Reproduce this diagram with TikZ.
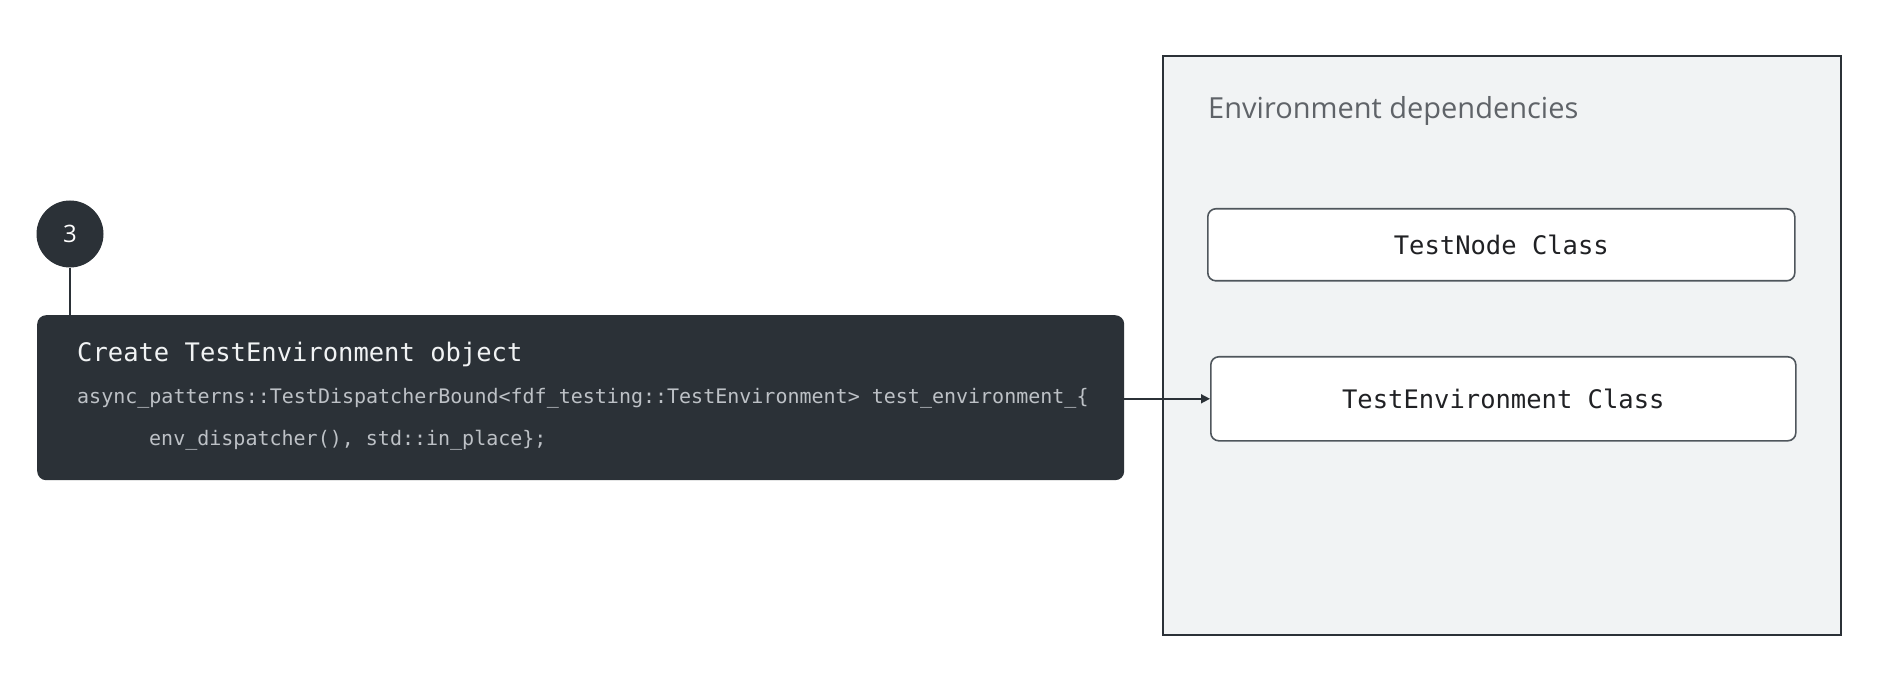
\documentclass[tikz,border=0pt]{standalone}
\usepackage{fontspec}
\setmainfont{Open Sans}
\setmonofont{DejaVu Sans Mono}
\usetikzlibrary{arrows.meta}
\definecolor{darkbg}{HTML}{2B3137}
\definecolor{titletxt}{HTML}{F1F3F4}
\definecolor{codetxt}{HTML}{BDC1C6}
\definecolor{panelfill}{HTML}{F1F3F4}
\definecolor{graytxt}{HTML}{5F6368}
\definecolor{boxline}{HTML}{4F565C}
\definecolor{inktxt}{HTML}{202124}
\tikzset{
  darkbox/.style={draw=none, fill=darkbg, rounded corners=9pt, inner sep=0pt, anchor=north west},
  panel/.style={draw=darkbg, line width=1.8pt, fill=panelfill, inner sep=0pt, anchor=north west},
  classbox/.style={draw=boxline, line width=1.6pt, fill=white, rounded corners=8pt, inner sep=0pt,
    font=\ttfamily\fontsize{25.5}{30}\selectfont, text=inktxt, anchor=north west},
  numcirc/.style={circle, fill=darkbg, inner sep=0pt, minimum size=67pt, text=white,
    font=\fontsize{24}{24}\selectfont},
  titletext/.style={anchor=base west, inner sep=0pt, text=titletxt, font=\ttfamily\fontsize{25.5}{30}\selectfont},
  codetext/.style={anchor=base west, inner sep=0pt, text=codetxt, font=\ttfamily\fontsize{20}{24}\selectfont},
  paneltitle/.style={anchor=base west, inner sep=0pt, text=graytxt, font=\fontsize{29}{34}\selectfont},
  conn/.style={draw=darkbg, line width=1.6pt},
  arr/.style={draw=darkbg, line width=1.6pt, -{Triangle[length=9pt,width=9pt]}}
}
\begin{document}
\begin{tikzpicture}[x=1pt,y=-1pt]
\useasboundingbox[fill=white] (0,0) rectangle (1882,684);

% left step
\node[darkbox, minimum width=1087pt, minimum height=165pt] (step) at (37,315) {};
\node[numcirc] (num) at (70,234) {3};
\draw[conn] (num.south) -- (num.south |- step.north);
\node[titletext] (title) at (77,362) {Create TestEnvironment object};
\node[codetext] (code1) at (77,403) {async\_patterns::TestDispatcherBound<fdf\_testing::TestEnvironment> test\_environment\_\{};
\node[codetext] (code2) at (149,445) {env\_dispatcher(), std::in\_place\};};

% right panel
\node[panel, minimum width=678pt, minimum height=579pt] (deps) at (1162,55) {};
\node[paneltitle] (depstitle) at (1208,119) {Environment dependencies};
\node[classbox, minimum width=587pt, minimum height=72pt] (tn) at (1207,208) {TestNode Class};
\node[classbox, minimum width=585pt, minimum height=84pt] (te) at (1210,356) {TestEnvironment Class};

\draw[arr] (step.east |- te.west) -- (te.west);
\end{tikzpicture}
\end{document}
